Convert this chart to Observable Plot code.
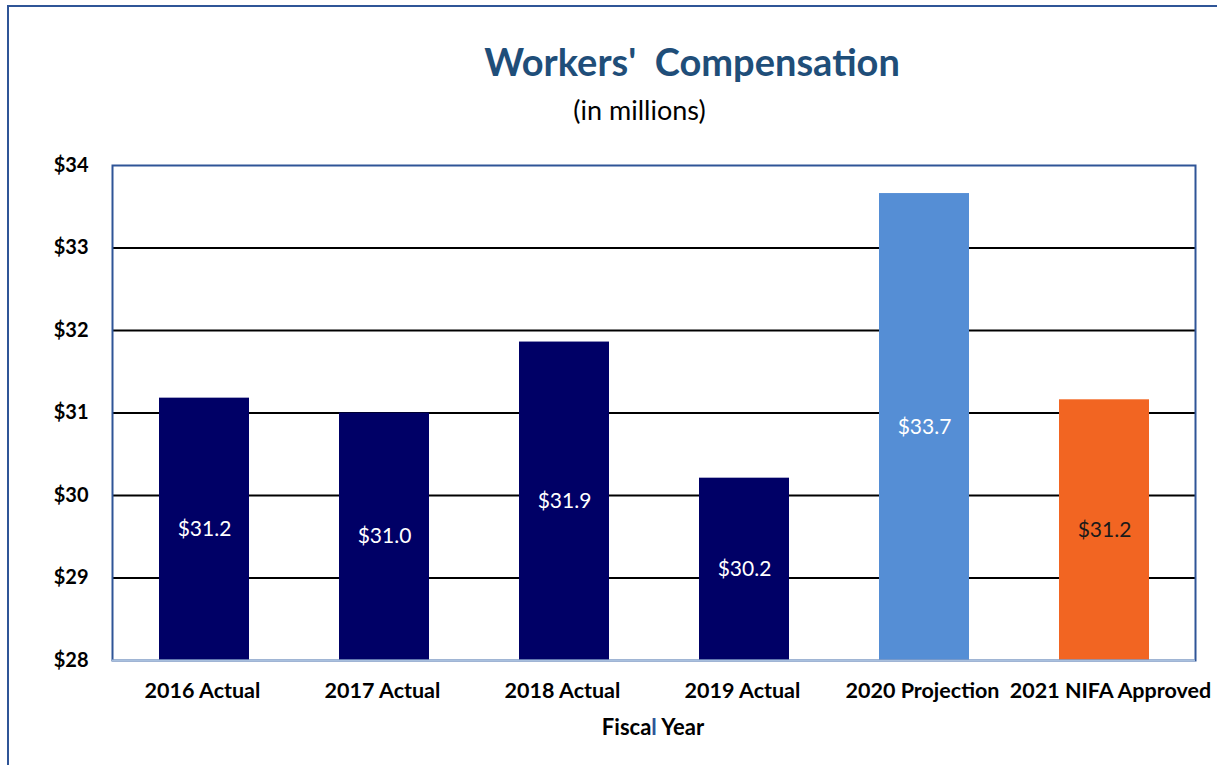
<!DOCTYPE html>
<html>
<head>
<meta charset="utf-8">
<script src="https://cdn.jsdelivr.net/npm/d3@7"></script>
<script src="https://cdn.jsdelivr.net/npm/@observablehq/plot@0.6"></script>
<style>
  html, body { margin: 0; padding: 0; background: #fff; }
  #wrap { position: relative; width: 1217px; height: 765px; overflow: hidden; font-family: Lato, "Open Sans", sans-serif; }
  #border { position: absolute; left: 7px; top: 5px; width: 1300px; height: 900px; border-left: 2px solid #2F5597; border-top: 2px solid #2F5597; box-sizing: border-box; }
  #title { position: absolute; left: 0; width: 1384px; top: 38px; text-align: center; font-size: 38px; font-weight: bold; color: #1F4E79; }
  #subtitle { position: absolute; left: 0; width: 1279px; top: 93px; text-align: center; font-size: 27px; color: #000; }
  #xtitle { position: absolute; left: 0; width: 1306px; top: 713px; text-align: center; font-size: 22px; font-weight: bold; color: #000; }
  #chart { position: absolute; left: 0; top: 0; }
</style>
</head>
<body>
<div id="wrap">
  <div id="border"></div>
  <div id="chart"></div>
  <div id="title">Workers'&nbsp; Compensation</div>
  <div id="subtitle">(in millions)</div>
  <div id="xtitle">Fisca<span style="color:#2F5597">l</span> Year</div>
</div>
<script>
const categories = ["2016 Actual", "2017 Actual", "2018 Actual", "2019 Actual", "2020 Projection", "2021 NIFA Approved"];
const values = [31.18, 31.0, 31.86, 30.21, 33.66, 31.16];
const labels = ["$31.2", "$31.0", "$31.9", "$30.2", "$33.7", "$31.2"];
const barColors = ["#000066", "#000066", "#000066", "#000066", "#558ED5", "#F26522"];
const labelColors = ["#ffffff", "#ffffff", "#ffffff", "#ffffff", "#ffffff", "#1a1a1a"];
const yTicks = [28, 29, 30, 31, 32, 33, 34];
const gridTicks = [29, 30, 31, 32, 33];

const data = categories.map((c, i) => ({
  category: c, value: values[i], label: labels[i], color: barColors[i], labelColor: labelColors[i]
}));

const xAxisStyle = { tickSize: 0, tickPadding: 22, fontSize: 21.5, fontWeight: "bold", fill: "#000" };

const chart = Plot.plot({
  width: 1217,
  height: 765,
  marginLeft: 112,
  marginRight: 22,
  marginTop: 165,
  marginBottom: 105,
  style: { fontFamily: "Lato, 'Open Sans', sans-serif", background: "transparent", overflow: "visible" },
  x: { domain: categories, paddingInner: 0.5, paddingOuter: 0.25, label: null },
  y: { domain: [28, 34], label: null },
  marks: [
    Plot.ruleY(gridTicks, { stroke: "#000", strokeWidth: 2 }),
    Plot.barY(data, {
      x: "category", y1: 28, y2: "value", fill: "color",
      style: "filter: drop-shadow(2px 1px 2px rgba(0,0,0,0.25))"
    }),
    Plot.text(data, {
      x: "category", y: d => (28 + d.value) / 2, text: "label",
      fill: "labelColor", fontSize: 21
    }),
    Plot.frame({ stroke: "#2F5597", strokeWidth: 2 }),
    Plot.ruleY([28], { stroke: "#A9C0DE", strokeWidth: 2 }),
    Plot.axisY(yTicks, {
      tickSize: 0, tickPadding: 24, tickFormat: d => "$" + d,
      fontSize: 20, fontWeight: "bold", fill: "#000"
    }),
    Plot.axisX(categories.slice(0, 5), { ...xAxisStyle, dx: -2 }),
    Plot.axisX(categories.slice(5), { ...xAxisStyle, dx: 6 })
  ]
});
document.getElementById("chart").appendChild(chart);
</script>
</body>
</html>
